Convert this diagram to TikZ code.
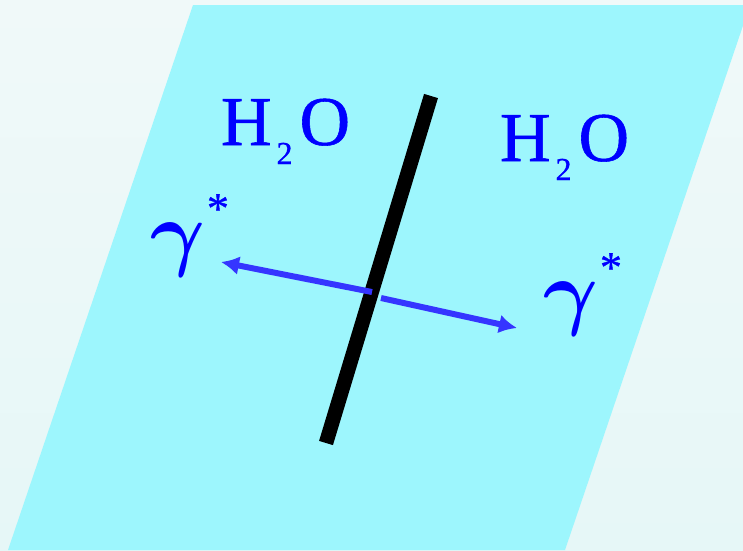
\documentclass[tikz,border=0pt]{standalone}
\usepackage{fontspec}
\setmainfont{Liberation Serif}
\newfontfamily\heavyserif[FakeBold=0.8]{Liberation Serif}
\usetikzlibrary{arrows.meta}
\definecolor{bgtop}{HTML}{F0F9F9}
\definecolor{bgbot}{HTML}{E6F7F7}
\definecolor{sheet}{HTML}{9DF6FD}
\definecolor{arrowblue}{HTML}{3535FF}
\definecolor{textblue}{HTML}{0000FF}
\tikzset{
  water/.style={inner sep=0pt, outer sep=0pt, text=textblue, anchor=base west},
  photon/.style={inner sep=0pt, outer sep=0pt, text=textblue, anchor=base west},
  wall/.style={line width=14.5pt, black},
  ray/.style={line width=6pt, arrowblue, -{Latex[length=18pt,width=19pt]}}
}
\newcommand{\waterlabel}{{\heavyserif\fontsize{70}{70}\selectfont H\kern5pt\raisebox{-19pt}{\fontsize{32}{32}\selectfont 2}\kern7pt O}}
\newcommand{\photonlabel}{\scalebox{8.4}{\boldmath$\gamma$}\kern2pt\raisebox{37pt}{\heavyserif\fontsize{44}{44}\selectfont *}}
\begin{document}
\begin{tikzpicture}[x=1pt,y=-1pt]
  \useasboundingbox (0,0) rectangle (743,550);
  \shade[top color=bgtop, bottom color=bgbot] (0,0) rectangle (743,550);
  \begin{scope}
    \clip (0,0) rectangle (743,550);
    \fill[sheet] (193,5) -- (750,5) -- (565,550) -- (8,550) -- cycle;
  \end{scope}
  \coordinate (wtop) at (431,96);
  \coordinate (wbot) at (326,443);
  \draw[wall] (wtop) -- (wbot);
  \coordinate (cl) at (372,292);
  \coordinate (cr) at (381,298);
  \coordinate (tl) at (221,262);
  \coordinate (tr) at (517,328);
  \draw[ray] (cl) -- (tl);
  \draw[ray] (cr) -- (tr);
  \node[water] (h2oL) at (221,145) {\waterlabel};
  \node[water] (h2oR) at (500,161) {\waterlabel};
  \node[photon] (gL) at (150,260) {\photonlabel};
  \node[photon] (gR) at (543,319) {\photonlabel};
\end{tikzpicture}
\end{document}
